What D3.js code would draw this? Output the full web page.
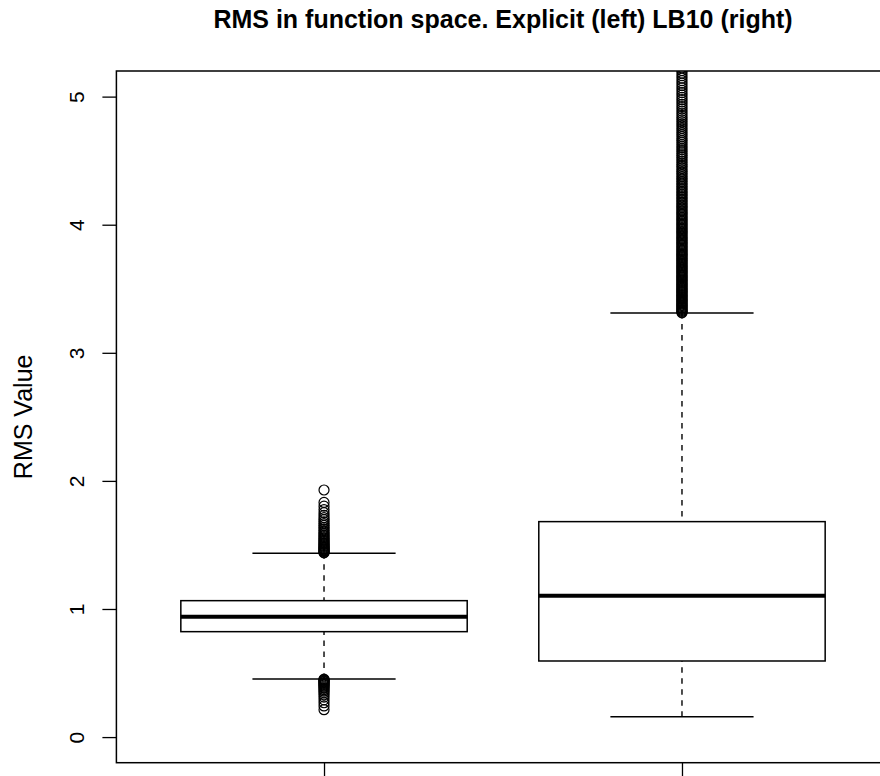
<!DOCTYPE html>
<html>
<head>
<meta charset="utf-8">
<script src="https://cdn.jsdelivr.net/npm/d3@7"></script>
<style>
  html, body { margin: 0; padding: 0; background: #fff; }
  svg { display: block; font-family: "Liberation Sans", Arial, Helvetica, sans-serif; }
</style>
</head>
<body>
<svg id="chart" width="880" height="776"></svg>
<script>
// Box groups and their five-number summaries
const groups = ["Explicit", "LB10"];
const lowerWhisker = [0.454, 0.159];
const lowerQuartile = [0.823, 0.594];
const medians = [0.940, 1.104];
const upperQuartile = [1.065, 1.682];
const upperWhisker = [1.435, 3.311];

// Points beyond the whiskers, per group
const outliersExplicit = [
  1.438, 1.443, 1.449, 1.455, 1.461, 1.468, 1.474, 1.481, 1.488, 1.495,
  1.503, 1.511, 1.519, 1.528, 1.537, 1.546, 1.556, 1.566, 1.577, 1.588,
  1.600, 1.612, 1.625, 1.638, 1.652, 1.666, 1.681, 1.697, 1.713, 1.731,
  1.752, 1.776, 1.803, 1.832, 1.929,
  0.452, 0.447, 0.442, 0.437, 0.431, 0.425, 0.419, 0.412, 0.405, 0.397,
  0.389, 0.380, 0.370, 0.358, 0.345, 0.330, 0.312, 0.291, 0.268, 0.243,
  0.214
];
const outliersLB10 = [
  3.312, 3.318, 3.325, 3.331, 3.338, 3.347, 3.352, 3.361, 3.369, 3.374,
  3.383, 3.391, 3.398, 3.406, 3.415, 3.421, 3.430, 3.437, 3.446, 3.452,
  3.461, 3.470, 3.477, 3.485, 3.494, 3.501, 3.510, 3.518, 3.527, 3.534,
  3.543, 3.551, 3.560, 3.568, 3.577, 3.586, 3.593, 3.602, 3.611, 3.619,
  3.628, 3.637, 3.645, 3.654, 3.663, 3.671, 3.680, 3.690, 3.698, 3.707,
  3.716, 3.725, 3.734, 3.743, 3.752, 3.761, 3.770, 3.779, 3.789, 3.798,
  3.807, 3.817, 3.826, 3.836, 3.845, 3.855, 3.864, 3.874, 3.884, 3.893,
  3.903, 3.913, 3.923, 3.933, 3.943, 3.953, 3.963, 3.973, 3.984, 3.994,
  4.004, 4.015, 4.025, 4.036, 4.046, 4.057, 4.068, 4.079, 4.089, 4.100,
  4.111, 4.122, 4.134, 4.145, 4.156, 4.168, 4.179, 4.191, 4.202, 4.214,
  4.226, 4.238, 4.250, 4.262, 4.274, 4.287, 4.299, 4.311, 4.324, 4.337,
  4.349, 4.362, 4.375, 4.388, 4.402, 4.415, 4.428, 4.442, 4.456, 4.469,
  4.483, 4.497, 4.511, 4.526, 4.540, 4.554, 4.569, 4.584, 4.598, 4.613,
  4.628, 4.644, 4.659, 4.674, 4.690, 4.706, 4.721, 4.737, 4.753, 4.770,
  4.786, 4.803, 4.819, 4.836, 4.853, 4.870, 4.887, 4.905, 4.922, 4.940,
  4.958, 4.976, 4.994, 5.012, 5.031, 5.049, 5.068, 5.087, 5.106, 5.125,
  5.145, 5.164, 5.184, 5.204, 5.224, 5.246
];
const outliers = [outliersExplicit, outliersLB10];

const yTicks = [0, 1, 2, 3, 4, 5];
const xTicks = [1, 2];
const titleText = "RMS in function space. Explicit (left) LB10 (right)";
const yLabel = "RMS Value";

// Plot region (right edge runs past the canvas)
const plotLeft = 116.4, plotRight = 889.6, plotTop = 71, plotBottom = 762.7;

const x = d3.scaleLinear().domain([0.42, 2.58]).range([plotLeft, plotRight]);
const y = d3.scaleLinear().domain([-0.2, 5.2]).range([plotBottom, plotTop]);

const boxHalf = x(1.4) - x(1);     // box width 0.8
const stapleHalf = x(1.2) - x(1);  // staple width 0.4

const svg = d3.select("#chart");

svg.append("defs").append("clipPath").attr("id", "plotClip")
  .append("rect")
  .attr("x", plotLeft).attr("y", plotTop)
  .attr("width", plotRight - plotLeft).attr("height", plotBottom - plotTop);

const plot = svg.append("g").attr("clip-path", "url(#plotClip)");

groups.forEach((g, i) => {
  const cx = x(i + 1);
  const grp = plot.append("g").attr("class", "box");

  // box
  grp.append("rect")
    .attr("x", cx - boxHalf).attr("y", y(upperQuartile[i]))
    .attr("width", 2 * boxHalf)
    .attr("height", y(lowerQuartile[i]) - y(upperQuartile[i]))
    .attr("fill", "#fff").attr("stroke", "#000").attr("stroke-width", 1.5);

  // median
  grp.append("line")
    .attr("x1", cx - boxHalf).attr("x2", cx + boxHalf)
    .attr("y1", y(medians[i])).attr("y2", y(medians[i]))
    .attr("stroke", "#000").attr("stroke-width", 4);

  // whiskers
  [[lowerWhisker[i], lowerQuartile[i]], [upperWhisker[i], upperQuartile[i]]].forEach(([a, b]) => {
    grp.append("line")
      .attr("x1", cx).attr("x2", cx)
      .attr("y1", y(a)).attr("y2", y(b))
      .attr("stroke", "#000").attr("stroke-width", 1.4)
      .attr("stroke-dasharray", "5.5,5.5");
  });

  // staples
  [lowerWhisker[i], upperWhisker[i]].forEach(v => {
    grp.append("line")
      .attr("x1", cx - stapleHalf).attr("x2", cx + stapleHalf)
      .attr("y1", y(v)).attr("y2", y(v))
      .attr("stroke", "#000").attr("stroke-width", 1.5);
  });

  // outliers
  grp.selectAll("circle.out").data(outliers[i]).join("circle")
    .attr("class", "out")
    .attr("cx", cx).attr("cy", d => y(d))
    .attr("r", 5)
    .attr("fill", "none").attr("stroke", "#000").attr("stroke-width", 1.2);
});

// frame
svg.append("rect")
  .attr("x", plotLeft).attr("y", plotTop)
  .attr("width", plotRight - plotLeft).attr("height", plotBottom - plotTop)
  .attr("fill", "none").attr("stroke", "#000").attr("stroke-width", 1.5);

// y axis
const yAxis = svg.append("g")
  .attr("transform", `translate(${plotLeft},0)`)
  .call(d3.axisLeft(y).tickValues(yTicks).tickFormat(d3.format("d")).tickSize(14).tickPadding(0));
yAxis.select(".domain").remove();
yAxis.selectAll(".tick line").attr("stroke", "#000").attr("stroke-width", 1.3);
yAxis.selectAll(".tick text")
  .attr("x", 0).attr("dy", null)
  .attr("transform", "translate(-32,0) rotate(-90)")
  .attr("text-anchor", "middle")
  .attr("font-size", 21)
  .attr("fill", "#000");

// x axis tick marks at the box positions
const xAxis = svg.append("g")
  .attr("transform", `translate(0,${plotBottom})`)
  .call(d3.axisBottom(x).tickValues(xTicks).tickFormat("").tickSize(14));
xAxis.select(".domain").remove();
xAxis.selectAll(".tick text").remove();
xAxis.selectAll(".tick line").attr("stroke", "#000").attr("stroke-width", 1.3);

// y label
svg.append("text")
  .attr("transform", `translate(32,${(plotTop + plotBottom) / 2}) rotate(-90)`)
  .attr("text-anchor", "middle")
  .attr("font-size", 25)
  .attr("fill", "#000")
  .text(yLabel);

// title
svg.append("text")
  .attr("x", (plotLeft + plotRight) / 2).attr("y", 28)
  .attr("text-anchor", "middle")
  .attr("font-size", 25)
  .attr("font-weight", "bold")
  .attr("fill", "#000")
  .text(titleText);
</script>
</body>
</html>
